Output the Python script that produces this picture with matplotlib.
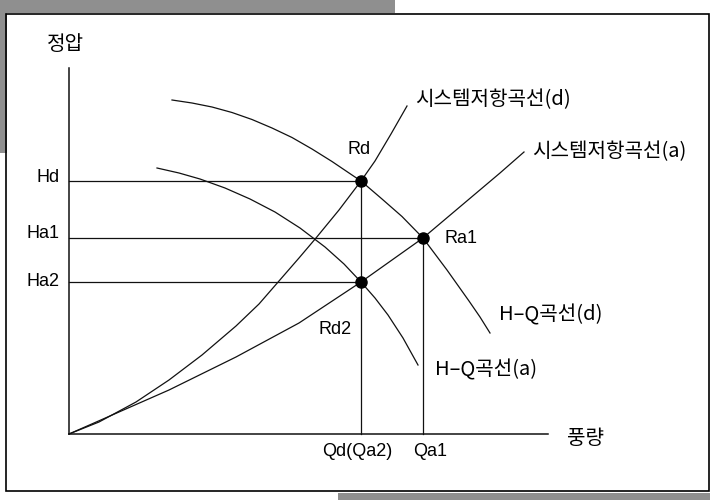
import matplotlib
matplotlib.use("Agg")
import matplotlib.pyplot as plt
from matplotlib.patches import Rectangle

# values (Q = flow, H = static pressure, schematic units)
sys_d_q = [0, 30, 67, 100, 133, 167, 190, 210, 230, 247, 270, 292, 306, 322, 338]
sys_d_h = [0, 12, 32, 54, 79, 108, 130, 153, 176, 196, 224, 253, 273, 300, 328]

sys_a_q = [0, 25, 50, 100, 167, 230, 292, 354, 431, 455]
sys_a_h = [0, 11, 22, 44, 77, 111, 152, 196, 261, 282]

hq_d_q = [103, 123, 143, 163, 183, 203, 223, 243, 263, 283, 292, 313, 333, 354, 378, 400, 411, 421]
hq_d_h = [334, 331, 327, 321.5, 314.5, 306, 296.5, 285, 272.5, 259, 253, 235, 217.5, 196, 164, 133, 117, 101]

hq_a_q = [88, 110, 131, 156, 181, 206, 231, 256, 275, 292, 306, 319, 334, 349]
hq_a_h = [266, 261, 255, 246, 235, 222, 206, 187, 170, 152, 136, 119, 96, 69]

Hd, Ha1, Ha2 = 253, 196, 152
Qd, Qa1 = 292, 354

KR = ['Noto Sans CJK KR', 'DejaVu Sans']
LAT = ['Liberation Sans', 'DejaVu Sans']

fig = plt.figure(figsize=(7.1, 5), dpi=100)
ax = fig.add_axes([0, 0, 1, 1])
ax.set_xlim(-69, 641)
ax.set_ylim(-66, 434)
ax.axis('off')

# scanned frame with grey shadow
W, Hh = 710, 500
def fr(x, y, w, h, **kw):
    fig.patches.append(Rectangle((x / W, 1 - (y + h) / Hh), w / W, h / Hh,
                                 transform=fig.transFigure, **kw))
fr(0, 0, 395, 13, color='#8f8f8f', lw=0)
fr(0, 0, 7, 153, color='#8f8f8f', lw=0)
fr(338, 493, 372, 7, color='#8f8f8f', lw=0)
fr(5.5, 14, 703, 477, fill=False, ec='black', lw=1.2)

lc = '#111111'
# axes
ax.plot([0, 0], [0, 366], color=lc, lw=1.1)
ax.plot([0, 479], [0, 0], color=lc, lw=1.1)

# guide lines
ax.plot([0, Qd], [Hd, Hd], color=lc, lw=0.9)
ax.plot([0, Qa1], [Ha1, Ha1], color=lc, lw=0.9)
ax.plot([0, Qd], [Ha2, Ha2], color=lc, lw=0.9)
ax.plot([Qd, Qd], [0, Hd], color=lc, lw=0.9)
ax.plot([Qa1, Qa1], [0, Ha1], color=lc, lw=0.9)

# curves
for q, h in [(sys_d_q, sys_d_h), (sys_a_q, sys_a_h), (hq_d_q, hq_d_h), (hq_a_q, hq_a_h)]:
    ax.plot(q, h, color=lc, lw=0.9, solid_joinstyle='round')

ax.plot([Qd, Qa1, Qd], [Hd, Ha1, Ha2], 'o', color='black', ms=8, ls='none')

fs = 13
kfs = 14.5
ax.text(-4, 390, '정압', family=KR, fontsize=kfs, ha='center', va='center')
ax.text(517, -4, '풍량', family=KR, fontsize=kfs, ha='center', va='center')
ax.text(-9, 256, 'Hd', family=LAT, fontsize=fs, ha='right', va='center')
ax.text(-9, 200, 'Ha1', family=LAT, fontsize=fs, ha='right', va='center')
ax.text(-9, 153, 'Ha2', family=LAT, fontsize=fs, ha='right', va='center')
ax.text(290, 284, 'Rd', family=LAT, fontsize=fs, ha='center', va='center')
ax.text(375, 195.5, 'Ra1', family=LAT, fontsize=fs, ha='left', va='center')
ax.text(266, 105, 'Rd2', family=LAT, fontsize=fs, ha='center', va='center')
ax.text(288, -18, 'Qd(Qa2)', family=LAT, fontsize=fs, ha='center', va='center')
ax.text(361, -18, 'Qa1', family=LAT, fontsize=fs, ha='center', va='center')
ax.text(346, 334, '시스템저항곡선(d)', family=KR, fontsize=kfs, ha='left', va='center')
ax.text(463, 282, '시스템저항곡선(a)', family=KR, fontsize=kfs, ha='left', va='center')
ax.text(430, 119, 'H\u2013Q곡선(d)', family=KR, fontsize=kfs, ha='left', va='center')
ax.text(366, 64, 'H\u2013Q곡선(a)', family=KR, fontsize=kfs, ha='left', va='center')

fig.savefig('out.png', dpi=100)
